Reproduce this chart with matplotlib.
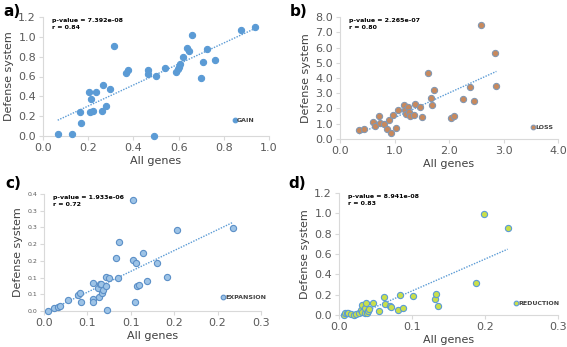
import matplotlib
matplotlib.use("Agg")
import matplotlib.pyplot as plt
import numpy as np

# panel a) GAIN
gain_x = [0.065, 0.127, 0.165, 0.168, 0.204, 0.212, 0.206, 0.221, 0.233, 0.264, 0.261,
          0.280, 0.295, 0.316, 0.366, 0.378, 0.463, 0.463, 0.499, 0.49, 0.54, 0.59,
          0.596, 0.60, 0.608, 0.62, 0.639, 0.645, 0.661, 0.70, 0.709, 0.726, 0.763,
          0.876, 0.94]
gain_y = [0.017, 0.023, 0.244, 0.13, 0.44, 0.37, 0.247, 0.257, 0.44, 0.51, 0.25,
          0.30, 0.47, 0.91, 0.64, 0.67, 0.67, 0.63, 0.61, 0.0, 0.69, 0.65,
          0.68, 0.70, 0.725, 0.80, 0.89, 0.86, 1.02, 0.58, 0.75, 0.88, 0.77,
          1.07, 1.10]

# panel b) LOSS
loss_x = [0.35, 0.44, 0.61, 0.65, 0.71, 0.73, 0.81, 0.87, 0.90, 0.93, 0.98, 1.02,
          1.07, 1.17, 1.20, 1.21, 1.25, 1.26, 1.29, 1.35, 1.38, 1.46, 1.50, 1.61,
          1.67, 1.69, 1.72, 2.04, 2.10, 2.25, 2.39, 2.46, 2.58, 2.84, 2.87]
loss_y = [0.61, 0.65, 1.13, 0.83, 1.54, 1.04, 0.98, 0.67, 1.22, 0.39, 1.59, 0.72,
          1.87, 2.22, 1.91, 1.63, 2.09, 1.74, 1.52, 1.57, 2.28, 2.09, 1.46, 4.30,
          2.72, 2.20, 3.24, 1.35, 1.54, 2.65, 3.39, 2.48, 7.46, 5.65, 3.48]

# panel c) EXPANSION
exp_x = [0.0046, 0.012, 0.016, 0.018, 0.028, 0.039, 0.042, 0.043, 0.056, 0.056,
         0.057, 0.062, 0.064, 0.066, 0.063, 0.067, 0.068, 0.071, 0.072, 0.075,
         0.073, 0.085, 0.083, 0.086, 0.103, 0.103, 0.106, 0.105, 0.107, 0.110,
         0.114, 0.119, 0.130, 0.142, 0.153, 0.218]
exp_y = [0.0, 0.009, 0.011, 0.015, 0.034, 0.049, 0.055, 0.028, 0.085, 0.037,
         0.026, 0.070, 0.080, 0.082, 0.041, 0.054, 0.062, 0.076, 0.103, 0.100,
         0.002, 0.100, 0.158, 0.205, 0.333, 0.152, 0.144, 0.027, 0.076, 0.077,
         0.174, 0.089, 0.145, 0.102, 0.243, 0.248]

# panel d) REDUCTION
red_x = [0.007, 0.008, 0.011, 0.013, 0.016, 0.020, 0.023, 0.027, 0.030, 0.032,
         0.032, 0.035, 0.036, 0.037, 0.038, 0.040, 0.041, 0.046, 0.055, 0.061,
         0.063, 0.070, 0.071, 0.081, 0.084, 0.088, 0.101, 0.132, 0.133, 0.136,
         0.188, 0.199, 0.231]
red_y = [0.0, 0.02, 0.016, 0.02, 0.007, 0.0, 0.007, 0.016, 0.05, 0.10,
         0.033, 0.016, 0.066, 0.115, 0.023, 0.04, 0.06, 0.115, 0.04, 0.177,
         0.105, 0.092, 0.082, 0.046, 0.193, 0.066, 0.19, 0.154, 0.207, 0.092,
         0.311, 0.993, 0.859]

# tick labels as printed (panel c rounds its 0.05 steps to one decimal)
ticks_a_x = ["0.0", "0.2", "0.4", "0.6", "0.8", "1.0"]
ticks_a_y = ["0.0", "0.2", "0.4", "0.6", "0.8", "1.0", "1.2"]
ticks_b_x = ["0.0", "1.0", "2.0", "3.0", "4.0"]
ticks_b_y = ["0.0", "1.0", "2.0", "3.0", "4.0", "5.0", "6.0", "7.0", "8.0"]
ticks_c_x = ["0.0", "0.1", "0.1", "0.2", "0.2", "0.3"]
ticks_c_y = ["0.0", "0.1", "0.1", "0.2", "0.2", "0.3", "0.3", "0.4"]
ticks_d_x = ["0.0", "0.1", "0.2", "0.3"]
ticks_d_y = ["0.0", "0.2", "0.4", "0.6", "0.8", "1.0", "1.2"]

W, H = 567, 347
fig = plt.figure(figsize=(W / 100, H / 100), dpi=100)

def make_ax(x0, x1, ytop, ybot):
    return fig.add_axes([x0 / W, 1 - ybot / H, (x1 - x0) / W, (ybot - ytop) / H])

panels = [
    dict(box=(43, 269, 17, 136), x=gain_x, y=gain_y, fc="#5b9bd5", ec="#5b9bd5",
         xmax=1.0, ymax=1.2, xl=ticks_a_x, yl=ticks_a_y, ysize=8,
         txt="p-value = 7.392e-08\nr = 0.84", lab="GAIN", leg=(0.84, 0.134),
         tag="a)", tagpos=(3, 11)),
    dict(box=(340, 558, 17, 139), x=loss_x, y=loss_y, fc="#c8895c", ec="#8497b0",
         xmax=4.0, ymax=8.0, xl=ticks_b_x, yl=ticks_b_y, ysize=8,
         txt="p-value = 2.265e-07\nr = 0.80", lab="LOSS", leg=(0.875, 0.098),
         tag="b)", tagpos=(290, 11)),
    dict(box=(44, 261, 194, 311), x=exp_x, y=exp_y, fc="#9dc3e6", ec="#5b8fc7",
         xmax=0.25, ymax=0.35, xl=ticks_c_x, yl=ticks_c_y, ysize=4.5,
         txt="p-value = 1.933e-06\nr = 0.72", lab="EXPANSION", leg=(0.815, 0.12),
         tag="c)", tagpos=(5, 183)),
    dict(box=(339, 558, 193, 315), x=red_x, y=red_y, fc="#c9df4a", ec="#5b9bd5",
         xmax=0.3, ymax=1.2, xl=ticks_d_x, yl=ticks_d_y, ysize=8,
         txt="p-value = 8.941e-08\nr = 0.83", lab="REDUCTION", leg=(0.80, 0.098),
         tag="d)", tagpos=(288, 183)),
]

for p in panels:
    ax = make_ax(*p["box"])
    x = np.array(p["x"])
    y = np.array(p["y"])
    ax.scatter(x, y, s=20, facecolor=p["fc"], edgecolor=p["ec"], linewidth=0.8,
               zorder=3, clip_on=False, label=p["lab"])
    # linear trend line (dotted, Excel-like)
    k, b = np.polyfit(x, y, 1)
    xs = np.array([x.min(), x.max()])
    ax.plot(xs, k * xs + b, ls=(0, (1, 1)), color="#5b9bd5", lw=1.0, zorder=2)

    ax.set_xlim(0, p["xmax"])
    ax.set_ylim(0, p["ymax"])
    ax.set_xticks(np.linspace(0, p["xmax"], len(p["xl"])))
    ax.set_yticks(np.linspace(0, p["ymax"], len(p["yl"])))
    ax.set_xticklabels(p["xl"], fontsize=8, color="#595959")
    ax.set_yticklabels(p["yl"], fontsize=p["ysize"], color="#595959")
    for s in ("top", "right"):
        ax.spines[s].set_visible(False)
    for s in ("left", "bottom"):
        ax.spines[s].set_color("#d9d9d9")
        ax.spines[s].set_linewidth(0.8)
    ax.tick_params(direction="out", length=3, width=0.8, color="#d9d9d9", pad=2)
    ax.set_xlabel("All genes", fontsize=8, color="#404040", labelpad=2)
    ax.set_ylabel("Defense system", fontsize=8, color="#404040", labelpad=3)

    ax.text(0.04, 0.99, p["txt"], transform=ax.transAxes, fontsize=4.5, fontweight="bold",
            va="top", ha="left", linespacing=1.5, color="black")

    leg = ax.legend(loc="center left", bbox_to_anchor=p["leg"], frameon=False,
                    handletextpad=0.0, borderpad=0, borderaxespad=0, handlelength=0.7,
                    fontsize=4.5, markerscale=0.75)
    for t in leg.get_texts():
        t.set_fontweight("bold")
        t.set_color("#404040")

    fig.text(p["tagpos"][0] / W, 1 - p["tagpos"][1] / H, p["tag"], fontsize=11,
             fontweight="bold", va="center", ha="left")

fig.savefig("out.png", dpi=100)
